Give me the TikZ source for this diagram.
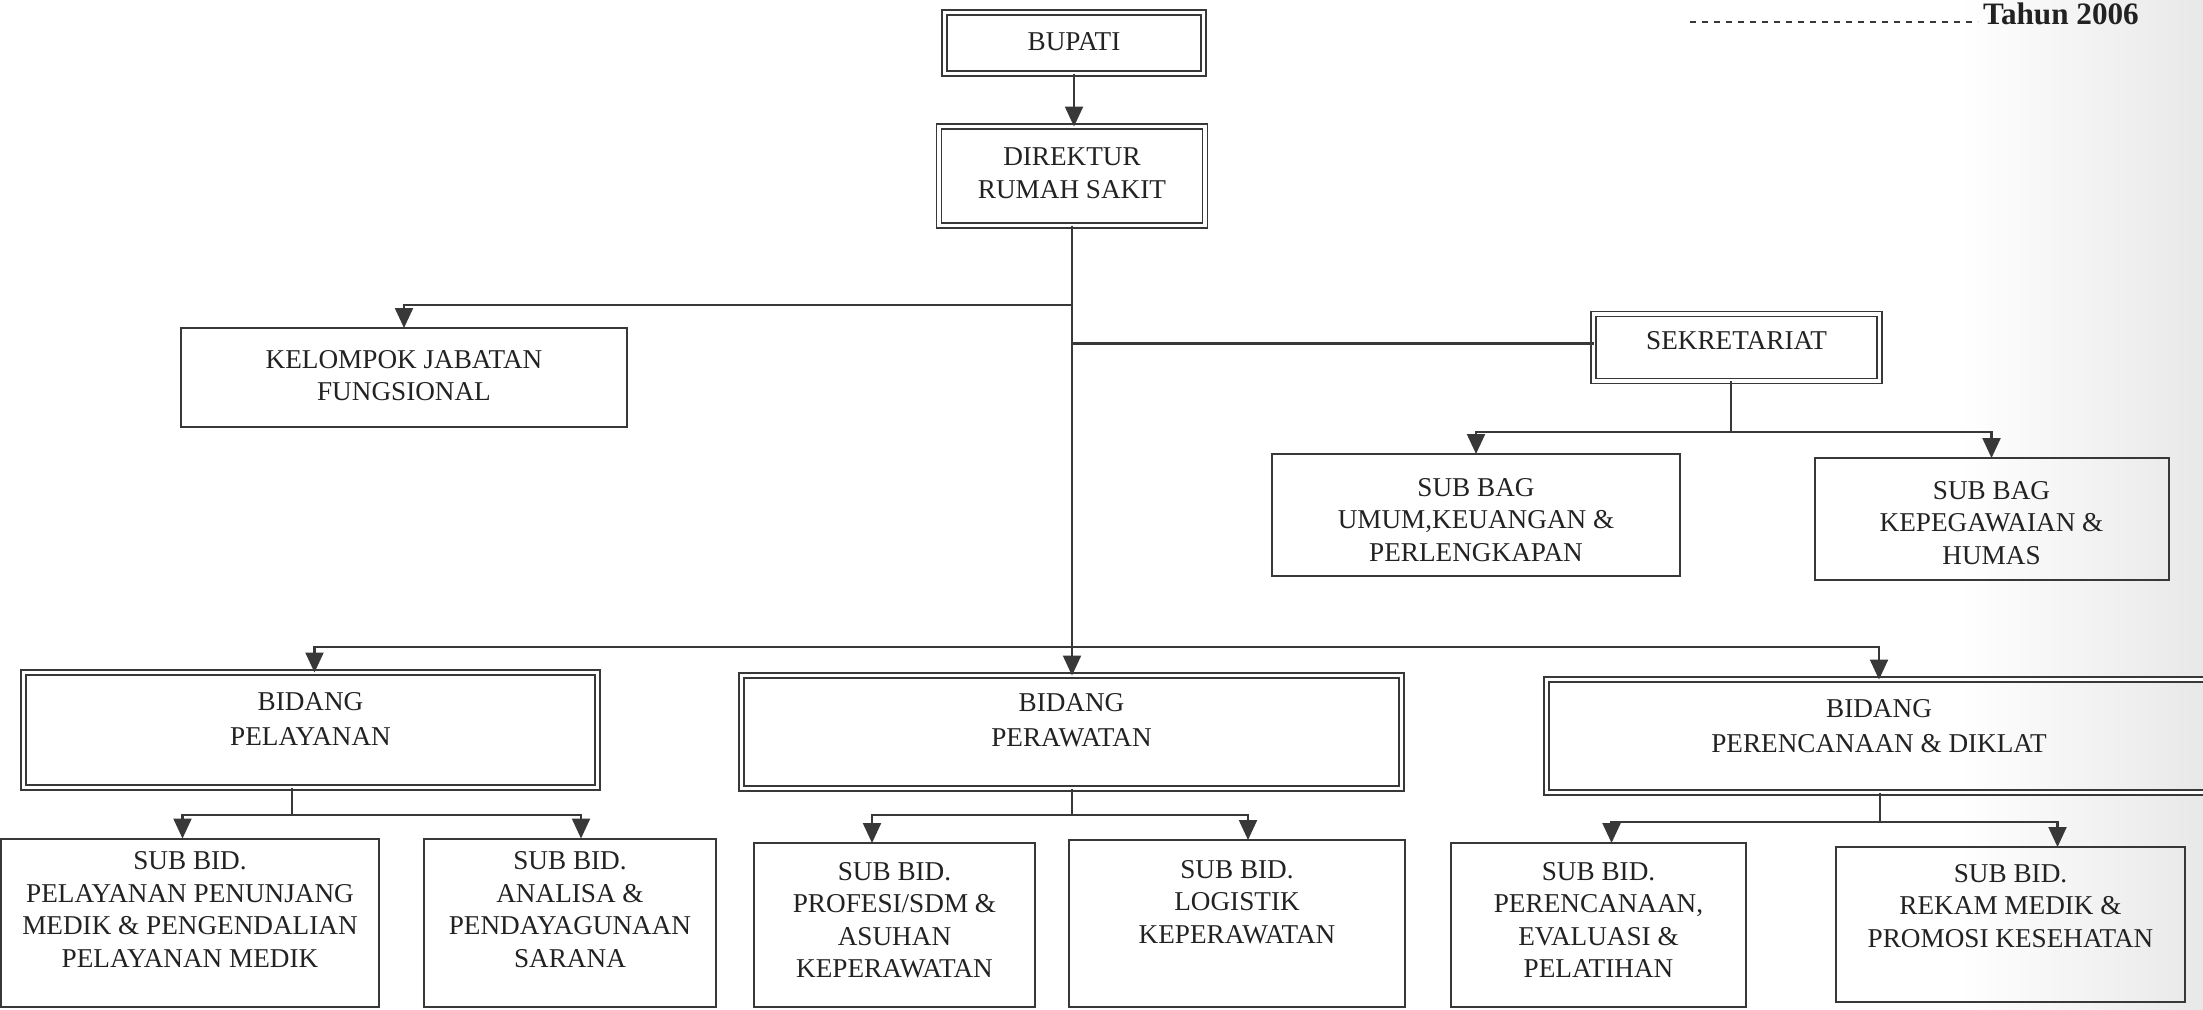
\documentclass[tikz,border=0pt]{standalone}
\usepackage{fontspec}
\setmainfont{Liberation Serif}
\usetikzlibrary{arrows.meta}
\definecolor{ink}{HTML}{222222}
\definecolor{rule}{HTML}{383838}

\begin{document}
\begin{tikzpicture}[x=0.5pt,y=-0.5pt,
  every node/.style={inner sep=0pt, outer sep=0pt},
  sbox/.style={draw=rule, line width=1pt, rectangle},
  dbox/.style={draw=rule, line width=0.9pt, double=white, double distance=1.6pt, rectangle},
  lbl/.style={font=\fontsize{13.6pt}{16.25pt}\selectfont, text=ink, align=center, anchor=north},
  lblwide/.style={lbl, font=\fontsize{13.6pt}{17.5pt}\selectfont},
  wire/.style={draw=rule, line width=1.1pt},
  feed/.style={wire, -{Triangle[width=9pt,length=10pt]}}
]
\useasboundingbox (0,0) rectangle (2203,1009);
\clip (0,0) rectangle (2203,1009);
\fill[white] (0,0) rectangle (2203,1009);
\shade[left color=white, right color=black!9] (1960,0) rectangle (2203,1009);

% header line of the page
\draw[rule, line width=0.8pt, dashed] (1690,22) -- (1978,22);
\node[anchor=base west, font=\fontsize{15.6pt}{18pt}\selectfont\bfseries, text=ink] (tahun) at (1983,24) {Tahun 2006};

% top of the chart
\node[dbox, minimum width=129.5pt, minimum height=30.5pt] (bupati) at (1074,43) {};
\node[lbl, yshift=-10.25pt] (bupati-t) at (bupati.north) {BUPATI};

\node[dbox, minimum width=133pt, minimum height=49.5pt] (direktur) at (1072,176) {};
\node[lbl, yshift=-10.75pt] (direktur-t) at (direktur.north) {DIREKTUR\\RUMAH SAKIT};

\node[sbox, minimum width=223pt, minimum height=49.5pt] (kelompok) at (404,377.5) {};
\node[lbl, yshift=-11pt] (kelompok-t) at (kelompok.north) {KELOMPOK JABATAN\\FUNGSIONAL};

% secretariat branch
\node[dbox, minimum width=143pt, minimum height=33.5pt] (sekretariat) at (1736.5,347.5) {};
\node[lbl, yshift=-8.75pt] (sekretariat-t) at (sekretariat.north) {SEKRETARIAT};

\node[sbox, minimum width=204pt, minimum height=61pt] (umum) at (1476,515) {};
\node[lbl, yshift=-12pt] (umum-t) at (umum.north) {SUB BAG\\UMUM,KEUANGAN \&\\PERLENGKAPAN};

\node[sbox, minimum width=177pt, minimum height=61pt] (kepeg) at (1991.5,519) {};
\node[lbl, yshift=-11.5pt] (kepeg-t) at (kepeg.north) {SUB BAG\\KEPEGAWAIAN \&\\HUMAS};

% divisions
\node[dbox, minimum width=287pt, minimum height=57.5pt] (pelayanan) at (310.5,730) {};
\node[lblwide, yshift=-10pt] (pelayanan-t) at (pelayanan.north) {BIDANG\\PELAYANAN};

\node[dbox, minimum width=330pt, minimum height=56.5pt] (perawatan) at (1071.5,732) {};
\node[lblwide, yshift=-9pt] (perawatan-t) at (perawatan.north) {BIDANG\\PERAWATAN};

\node[dbox, minimum width=332.5pt, minimum height=56.5pt] (perencanaan) at (1879,736) {};
\node[lblwide, yshift=-10pt] (perencanaan-t) at (perencanaan.north) {BIDANG\\PERENCANAAN \& DIKLAT};

% sub-divisions
\node[sbox, minimum width=189pt, minimum height=84pt] (penunjang) at (190,922.5) {};
\node[lbl, yshift=-6.5pt] (penunjang-t) at (penunjang.north) {SUB BID.\\PELAYANAN PENUNJANG\\MEDIK \& PENGENDALIAN\\PELAYANAN MEDIK};

\node[sbox, minimum width=146pt, minimum height=84pt] (analisa) at (570,922.5) {};
\node[lbl, yshift=-6.5pt] (analisa-t) at (analisa.north) {SUB BID.\\ANALISA \&\\PENDAYAGUNAAN\\SARANA};

\node[sbox, minimum width=140.5pt, minimum height=82pt] (profesi) at (894.5,925) {};
\node[lbl, yshift=-9.5pt] (profesi-t) at (profesi.north) {SUB BID.\\PROFESI/SDM \&\\ASUHAN\\KEPERAWATAN};

\node[sbox, minimum width=168pt, minimum height=83.5pt] (logistik) at (1237,923.5) {};
\node[lbl, yshift=-10pt] (logistik-t) at (logistik.north) {SUB BID.\\LOGISTIK\\KEPERAWATAN};

\node[sbox, minimum width=147.5pt, minimum height=82pt] (perencsub) at (1598.5,925) {};
\node[lbl, yshift=-9.5pt] (perencsub-t) at (perencsub.north) {SUB BID.\\PERENCANAAN,\\EVALUASI \&\\PELATIHAN};

\node[sbox, minimum width=174.5pt, minimum height=77.5pt] (rekam) at (2010.5,924.5) {};
\node[lbl, yshift=-8.5pt] (rekam-t) at (rekam.north) {SUB BID.\\REKAM MEDIK \&\\PROMOSI KESEHATAN};

% junction points of the connector lines
\coordinate (kj) at (1072,305);
\coordinate (bus) at (1072,647);
\coordinate (sk-in) at ([yshift=2pt]sekretariat.west);
\coordinate (sj) at (1731,432);
\coordinate (pj) at (292,815);
\coordinate (rj) at (1072,815);
\coordinate (dj) at (1880,822);

% trunk
\draw[feed] (bupati.south) -- (bupati.south |- direktur.north);
\draw[feed] (direktur.south) -- (direktur.south |- perawatan.north);
\draw[feed] (kj) -| (kelompok.north);
\draw[wire] (direktur.south |- sk-in) -- (sk-in);

% secretariat units
\draw[wire] (sekretariat.south -| sj) -- (sj);
\draw[feed] (sj) -| (umum.north);
\draw[feed] (sj) -| (kepeg.north);

% divisions
\draw[feed] (bus) -| ([xshift=2pt]pelayanan.north);
\draw[feed] (bus) -| (perencanaan.north);

% sub-divisions
\draw[wire] (pelayanan.south -| pj) -- (pj);
\draw[feed] (pj) -| ([xshift=-3.75pt]penunjang.north);
\draw[feed] (pj) -| ([xshift=5.5pt]analisa.north);

\draw[wire] (perawatan.south -| rj) -- (rj);
\draw[feed] (rj) -| ([xshift=-11.25pt]profesi.north);
\draw[feed] (rj) -| ([xshift=5.5pt]logistik.north);

\draw[wire] (perencanaan.south -| dj) -- (dj);
\draw[feed] (dj) -| ([xshift=6.5pt]perencsub.north);
\draw[feed] (dj) -| ([xshift=23.5pt]rekam.north);
\end{tikzpicture}
\end{document}
